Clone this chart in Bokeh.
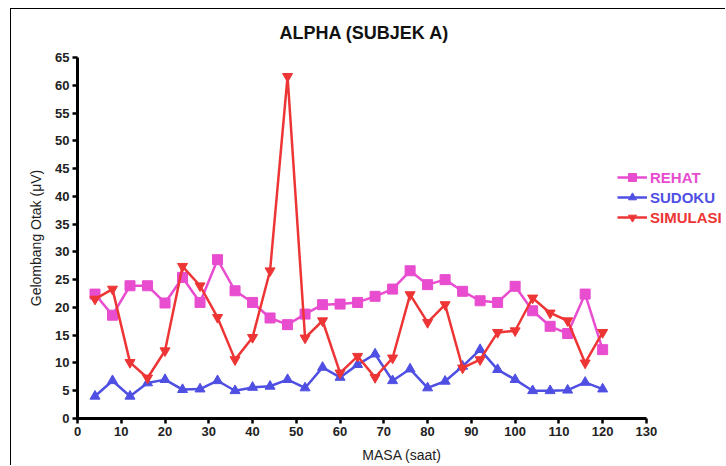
from bokeh.plotting import figure
from bokeh.models import Range1d, Legend, LegendItem, FixedTicker
from bokeh.embed import file_html
from bokeh.resources import INLINE

# ---- data ----
masa = [4, 8, 12, 16, 20, 24, 28, 32, 36, 40, 44, 48, 52, 56, 60,
        64, 68, 72, 76, 80, 84, 88, 92, 96, 100, 104, 108, 112, 116, 120]
rehat = [22.4, 18.6, 23.9, 23.9, 20.8, 25.4, 20.9, 28.6, 23.0, 20.9,
         18.1, 16.9, 18.8, 20.5, 20.6, 20.9, 22.0, 23.3, 26.6, 24.1,
         25.0, 22.9, 21.2, 20.9, 23.8, 19.4, 16.6, 15.3, 22.4, 12.4]
sudoku = [4.0, 6.8, 4.0, 6.4, 7.0, 5.2, 5.3, 6.8, 5.0, 5.6,
          5.8, 7.0, 5.5, 9.2, 7.4, 9.7, 11.6, 6.8, 8.9, 5.5,
          6.7, 9.4, 12.4, 8.8, 7.0, 5.0, 5.0, 5.1, 6.5, 5.3]
simulasi = [21.5, 23.3, 10.1, 7.3, 12.2, 27.4, 23.9, 18.2, 10.6, 14.6,
            26.6, 61.6, 14.5, 17.6, 8.2, 11.2, 7.4, 10.9, 22.3, 17.3,
            20.5, 9.1, 10.6, 15.5, 15.8, 21.7, 19.0, 17.6, 10.0, 15.5]
x_ticks = list(range(0, 131, 10))
y_ticks = list(range(0, 66, 5))
series_names = ["REHAT", "SUDOKU", "SIMULASI"]
colors = ["#E84CCF", "#4F4FE3", "#EE3535"]
markers = ["square", "triangle", "inverted_triangle"]

FONT = "Liberation Sans"

p = figure(width=715, height=457, output_backend="svg", toolbar_location=None,
           x_range=Range1d(0, 148.3), y_range=Range1d(0, 65),
           min_border_left=66, min_border_right=0, min_border_top=48,
           min_border_bottom=48)
p.margin = (8, 0, 0, 10)
p.styles = {"border-left": "1px solid black", "border-top": "1px solid black"}
p.outline_line_color = None
p.grid.visible = False

p.title.text = "ALPHA (SUBJEK A)"
p.title.align = "left"
p.title.vertical_align = "top"
p.title.offset = 202
p.title.standoff = 25
p.title.text_font = FONT
p.title.text_font_size = "18px"
p.title.text_font_style = "bold"
p.title.text_color = "#111111"

for ax, ticks in ((p.xaxis, x_ticks), (p.yaxis, y_ticks)):
    ax.ticker = FixedTicker(ticks=ticks)
    ax.axis_line_width = 3
    ax.axis_line_color = "black"
    ax.major_tick_line_width = 2.5
    ax.major_tick_line_color = "black"
    ax.major_tick_out = 5
    ax.major_tick_in = 0
    ax.minor_tick_line_color = None
    ax.major_label_text_font = FONT
    ax.major_label_text_font_size = "13px"
    ax.major_label_text_font_style = "bold"
    ax.major_label_text_color = "#222222"
    ax.major_label_standoff = 3
    ax.axis_label_text_font = FONT
    ax.axis_label_text_font_size = "14px"
    ax.axis_label_text_font_style = "normal"
    ax.axis_label_text_color = "#222222"

p.xaxis.bounds = (0, 130)
p.xaxis.axis_label = "MASA (saat)"
p.yaxis.axis_label = "Gelombang Otak (μV)"
p.xaxis.axis_label_standoff = 8
p.yaxis.axis_label_standoff = 8

all_vals = [rehat, sudoku, simulasi]
legend_y = [231, 211, 191]
for name, vals, col, mk, ly in zip(series_names, all_vals, colors, markers, legend_y):
    ln = p.line(masa, vals, line_color=col, line_width=2.5)
    sc = p.scatter(masa, vals, marker=mk, size=10, fill_color=col, line_color=col)
    lg = Legend(items=[LegendItem(label=name, renderers=[ln, sc])],
                location=(540, ly), padding=0, margin=0, spacing=0,
                glyph_width=30, glyph_height=20, label_height=20,
                label_standoff=3, border_line_color=None,
                background_fill_alpha=0,
                label_text_font=FONT, label_text_font_size="15px",
                label_text_font_style="bold", label_text_color=col)
    p.add_layout(lg, "center")

open("out.html", "w").write(file_html(p, INLINE))
